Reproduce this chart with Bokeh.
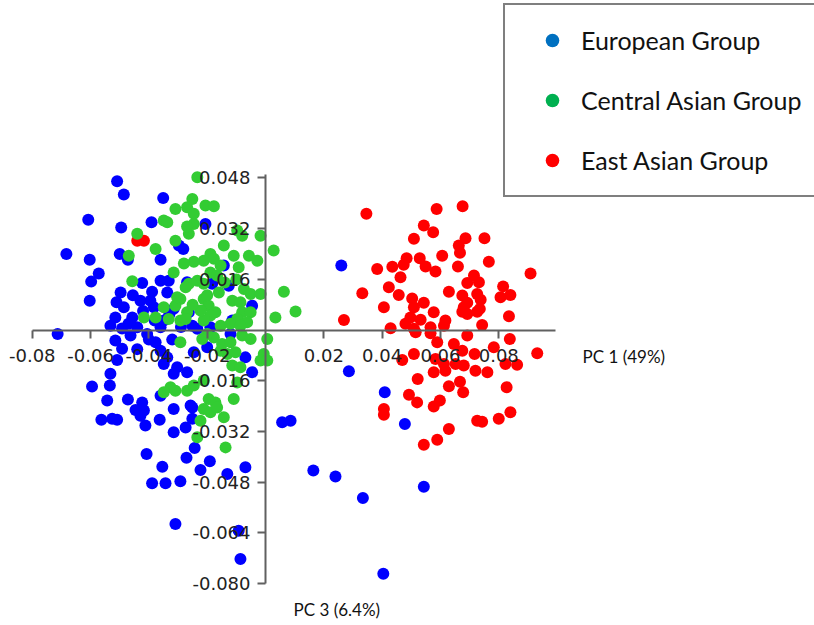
import math
from bokeh.plotting import figure
from bokeh.models import Range1d, FixedTicker, PrintfTickFormatter, Legend, LegendItem, Label
from bokeh.embed import file_html
from bokeh.resources import INLINE
from bokeh.core.properties import value

# ---------------- data (PC1, PC3) ----------------
european_x = [-0.0509, -0.0486, -0.0351, -0.0608, -0.0495, -0.0391, -0.0683, -0.0603, -0.0500, -0.0472,
              -0.0360, -0.0572, -0.0598, -0.0603, -0.0497, -0.0511, -0.0423, -0.0389, -0.0360, -0.0429,
              -0.0515, -0.0457, -0.0532, -0.0713, -0.0282, -0.0332, -0.0126, -0.0383, -0.0337, -0.0486,
              -0.0440, -0.0349, -0.0360, -0.0515, -0.0114, -0.0189, -0.0069, -0.0251, -0.0406, -0.0377,
              -0.0200, -0.0246, -0.0206, -0.0297, -0.0143, -0.0269, -0.0183, -0.0046, -0.0315, -0.0263,
              -0.0234, -0.0492, -0.0509, -0.0463, -0.0532, -0.0595, -0.0534, -0.0543, -0.0472, -0.0423,
              -0.0446, -0.0417, -0.0429, -0.0412, -0.0563, -0.0526, -0.0509, -0.0363, -0.0408, -0.0354,
              -0.0337, -0.0360, -0.0315, -0.0315, -0.0274, -0.0251, -0.0257, -0.0389, -0.0343, -0.0292,
              -0.0271, -0.0243, -0.0223, -0.0191, -0.0131, -0.0069, -0.0309, -0.0092, -0.0086, -0.0046,
              -0.0349, -0.0315, -0.0269, -0.0120, -0.0251, 0.0260, 0.0286, 0.0409, 0.0478, 0.0057,
              0.0086, 0.0164, 0.0240, 0.0334, 0.0543, 0.0404, -0.0303, -0.0395, -0.0492, -0.0360,
              -0.0455, -0.0420, -0.0380, -0.0330, -0.0470, -0.0400, -0.0440, -0.0320, -0.0290]
european_y = [0.0470, 0.0428, 0.0417, 0.0348, 0.0324, 0.0340, 0.0240, 0.0222, 0.0240, 0.0222,
              0.0222, 0.0179, 0.0153, 0.0093, 0.0119, 0.0088, 0.0149, 0.0121, 0.0156, 0.0093,
              0.0040, 0.0040, 0.0014, -0.0012, 0.0256, 0.0156, 0.0140, 0.0072, 0.0119, 0.0072,
              0.0009, 0.0030, 0.0009, -0.0033, 0.0030, 0.0009, -0.0086, 0.0014, -0.0012, -0.0038,
              -0.0054, -0.0070, 0.0335, 0.0267, 0.0204, 0.0151, 0.0146, 0.0077, 0.0067, 0.0056,
              0.0004, -0.0059, -0.0094, -0.0017, -0.0138, -0.0178, -0.0175, -0.0222, -0.0219, -0.0228,
              -0.0252, -0.0254, -0.0270, -0.0301, -0.0283, -0.0280, -0.0283, -0.0283, -0.0391, -0.0431,
              -0.0086, -0.0207, -0.0249, -0.0322, -0.0307, -0.0280, -0.0238, -0.0483, -0.0483, -0.0477,
              -0.0403, -0.0372, -0.0441, -0.0414, -0.0454, -0.0433, -0.0612, -0.0633, -0.0722, -0.0133,
              -0.0107, -0.0138, -0.0133, -0.0012, -0.0244, 0.0204, -0.0130, -0.0196, -0.0296, -0.0291,
              -0.0286, -0.0443, -0.0462, -0.0530, -0.0494, -0.0769, -0.0117, 0.0093, 0.0005, -0.0065,
              0.0110, 0.0060, 0.0030, 0.0050, 0.0020, -0.0030, -0.0060, -0.0030, 0.0010]

central_x = [-0.0234, -0.0251, -0.0206, -0.0177, -0.0309, -0.0269, -0.0246, -0.0349, -0.0246, -0.0263,
             -0.0269, -0.0097, -0.0080, -0.0017, -0.0309, -0.0143, 0.0028, -0.0189, -0.0177, -0.0212,
             -0.0246, -0.0109, -0.0057, -0.0028, -0.0154, -0.0092, -0.0189, -0.0166, -0.0315, -0.0263,
             -0.0234, -0.0212, -0.0160, -0.0074, -0.0051, -0.0017, 0.0063, 0.0034, 0.0103, -0.0292,
             -0.0309, -0.0269, -0.0212, -0.0195, -0.0172, -0.0114, -0.0086, -0.0080, -0.0051, -0.0097,
             -0.0063, -0.0332, -0.0292, -0.0274, -0.0189, -0.0212, -0.0337, -0.0440, -0.0377, -0.0469,
             -0.0457, -0.0349, -0.0417, -0.0377, -0.0303, -0.0274, -0.0223, -0.0154, -0.0120, -0.0177,
             0.0006, -0.0006, -0.0086, -0.0200, -0.0149, -0.0120, -0.0080, -0.0051, -0.0154, -0.0131,
             -0.0103, -0.0017, -0.0292, -0.0217, -0.0114, -0.0326, -0.0309, -0.0349, -0.0269, -0.0246,
             -0.0212, -0.0109, -0.0195, -0.0172, -0.0212, -0.0189, -0.0166, -0.0143, -0.0223, -0.0234,
             -0.0137, -0.0097, -0.0086, 0.0006, -0.0280, -0.0200, -0.0140, -0.0250, -0.0100]
central_y = [0.0482, 0.0414, 0.0393, 0.0391, 0.0382, 0.0388, 0.0367, 0.0346, 0.0335, 0.0304,
             0.0327, 0.0314, 0.0298, 0.0298, 0.0282, 0.0267, 0.0251, 0.0240, 0.0225, 0.0219,
             0.0216, 0.0235, 0.0235, 0.0219, 0.0204, 0.0198, 0.0182, 0.0172, 0.0182, 0.0146,
             0.0156, 0.0146, 0.0119, 0.0130, 0.0114, 0.0114, 0.0121, 0.0040, 0.0059, 0.0098,
             0.0077, 0.0056, 0.0098, 0.0077, 0.0056, 0.0093, 0.0088, 0.0056, 0.0056, 0.0035,
             0.0025, 0.0035, 0.0030, 0.0035, 0.0046, 0.0030, 0.0340, 0.0304, 0.0256, 0.0235,
             0.0154, 0.0072, 0.0040, 0.0040, 0.0104, 0.0135, 0.0062, 0.0014, 0.0020, -0.0023,
             -0.0028, -0.0075, 0.0014, -0.0012, -0.0044, -0.0038, -0.0017, -0.0028, -0.0065, -0.0075,
             -0.0070, -0.0096, -0.0038, -0.0028, -0.0112, -0.0180, -0.0191, -0.0196, -0.0191, -0.0175,
             -0.0159, -0.0217, -0.0217, -0.0228, -0.0249, -0.0259, -0.0244, -0.0275, -0.0286, -0.0338,
             -0.0370, -0.0165, -0.0117, -0.0096, 0.0210, 0.0110, 0.0150, 0.0080, 0.0160]

east_x = [0.0346, 0.0587, 0.0676, 0.0543, 0.0575, 0.0509, 0.0686, 0.0751, 0.0663, 0.0667,
          0.0606, 0.0484, 0.0529, 0.0766, 0.0474, 0.0549, 0.0583, 0.0660, 0.0909, 0.0383,
          0.0435, 0.0463, 0.0715, 0.0692, 0.0732, 0.0815, 0.0423, 0.0332, 0.0457, 0.0629,
          0.0675, 0.0726, 0.0840, 0.0806, 0.0503, 0.0738, 0.0406, 0.0543, 0.0692, 0.0509,
          0.0577, 0.0675, 0.0726, 0.0735, 0.0835, 0.0269, 0.0497, 0.0532, 0.0617, 0.0480,
          0.0429, 0.0566, 0.0743, 0.0509, 0.0515, 0.0566, 0.0612, 0.0589, 0.0692, 0.0838,
          0.0646, 0.0783, 0.0675, 0.0509, 0.0469, 0.0583, 0.0612, 0.0652, 0.0680, 0.0717,
          0.0720, 0.0761, 0.0823, 0.0863, 0.0932, 0.0577, 0.0617, 0.0522, 0.0667, 0.0629,
          0.0827, 0.0678, 0.0492, 0.0520, 0.0598, 0.0577, 0.0406, 0.0406, 0.0840, 0.0800,
          0.0726, 0.0743, 0.0629, 0.0589, 0.0543, 0.0680, 0.0692, -0.0440, -0.0417]
east_y = [0.0367, 0.0382, 0.0391, 0.0330, 0.0309, 0.0288, 0.0290, 0.0290, 0.0267, 0.0244,
          0.0235, 0.0227, 0.0227, 0.0216, 0.0206, 0.0201, 0.0185, 0.0201, 0.0179, 0.0193,
          0.0200, 0.0167, 0.0172, 0.0149, 0.0151, 0.0138, 0.0135, 0.0116, 0.0111, 0.0121,
          0.0109, 0.0114, 0.0111, 0.0104, 0.0100, 0.0096, 0.0072, 0.0086, 0.0086, 0.0072,
          0.0056, 0.0058, 0.0058, 0.0067, 0.0044, 0.0032, 0.0040, 0.0033, 0.0030, 0.0020,
          0.0006, 0.0009, 0.0016, 0.0004, -0.0007, -0.0010, 0.0014, -0.0038, -0.0017, -0.0028,
          -0.0044, -0.0054, -0.0065, -0.0075, -0.0094, -0.0091, -0.0107, -0.0107, -0.0112, -0.0075,
          -0.0128, -0.0133, -0.0107, -0.0109, -0.0073, -0.0133, -0.0128, -0.0154, -0.0163, -0.0177,
          -0.0180, -0.0196, -0.0204, -0.0228, -0.0222, -0.0241, -0.0249, -0.0267, -0.0259, -0.0280,
          -0.0286, -0.0289, -0.0312, -0.0346, -0.0362, 0.0072, 0.0051, 0.0282, 0.0282]

x_ticks = [-0.08, -0.06, -0.04, -0.02, 0.02, 0.04, 0.06, 0.08]
y_ticks = [-0.080, -0.064, -0.048, -0.032, -0.016, 0.016, 0.032, 0.048]
group_names = ["European Group", "Central Asian Group", "East Asian Group"]
x_title = "PC 1 (49%)"
y_title = "PC 3 (6.4%)"

# ---------------- figure ----------------
p = figure(width=814, height=625, output_backend="svg", toolbar_location=None,
           x_range=Range1d(-0.0909, 0.1883), y_range=Range1d(-0.0932, 0.1040),
           min_border=0, title=None)
p.outline_line_color = None
p.background_fill_color = "white"
p.border_fill_color = "white"
p.grid.visible = False

axis_col = "#606060"
for ax, ticks, fmt, bounds, standoff in ((p.xaxis[0], x_ticks, "%.2f", (-0.08, 0.0995), 11),
                                         (p.yaxis[0], y_ticks, "%.3f", (-0.080, 0.049), 7)):
    ax.fixed_location = 0
    ax.bounds = bounds
    ax.ticker = FixedTicker(ticks=ticks)
    ax.formatter = PrintfTickFormatter(format=fmt)
    ax.axis_line_color = axis_col
    ax.axis_line_width = 2
    ax.major_tick_line_color = axis_col
    ax.major_tick_line_width = 2
    ax.major_tick_out = 8
    ax.major_tick_in = 0
    ax.minor_tick_line_color = None
    ax.major_label_text_font = "DejaVu Sans"
    ax.major_label_text_font_size = "18px"
    ax.major_label_text_color = "#222222"
    ax.major_label_standoff = standoff

# data points
p.scatter(east_x, east_y, size=12, fill_color="#ff0000", line_color=None)
p.scatter(european_x, european_y, size=12, fill_color="#0000ff", line_color=None)
p.scatter(central_x, central_y, size=12, fill_color="#33cc33", line_color=None)

# legend proxies (legend colours differ from the point colours in the reference)
nan = float("nan")
leg_cols = ["#0070c0", "#00b050", "#ff0000"]
items = []
for name, col in zip(group_names, leg_cols):
    r = p.scatter([nan], [nan], size=12, fill_color=col, line_color=None)
    items.append(LegendItem(label=name, renderers=[r]))

legend = Legend(items=items, location=(503, 428), margin=0, padding=18,
                glyph_width=58, glyph_height=34, label_height=34, label_standoff=0,
                spacing=26, border_line_color="black", border_line_width=2,
                background_fill_color="white", background_fill_alpha=1,
                label_text_font="Lato", label_text_font_size="25px",
                label_text_color="#111111")
p.add_layout(legend)

p.add_layout(Label(x=582, y=269, x_units="screen", y_units="screen", text=x_title,
                   text_font="Lato", text_font_size="17px", text_color="#111111",
                   text_baseline="middle"))
p.add_layout(Label(x=293, y=16, x_units="screen", y_units="screen", text=y_title,
                   text_font="Lato", text_font_size="17px", text_color="#111111",
                   text_baseline="middle"))

open("out.html", "w").write(file_html(p, INLINE))
